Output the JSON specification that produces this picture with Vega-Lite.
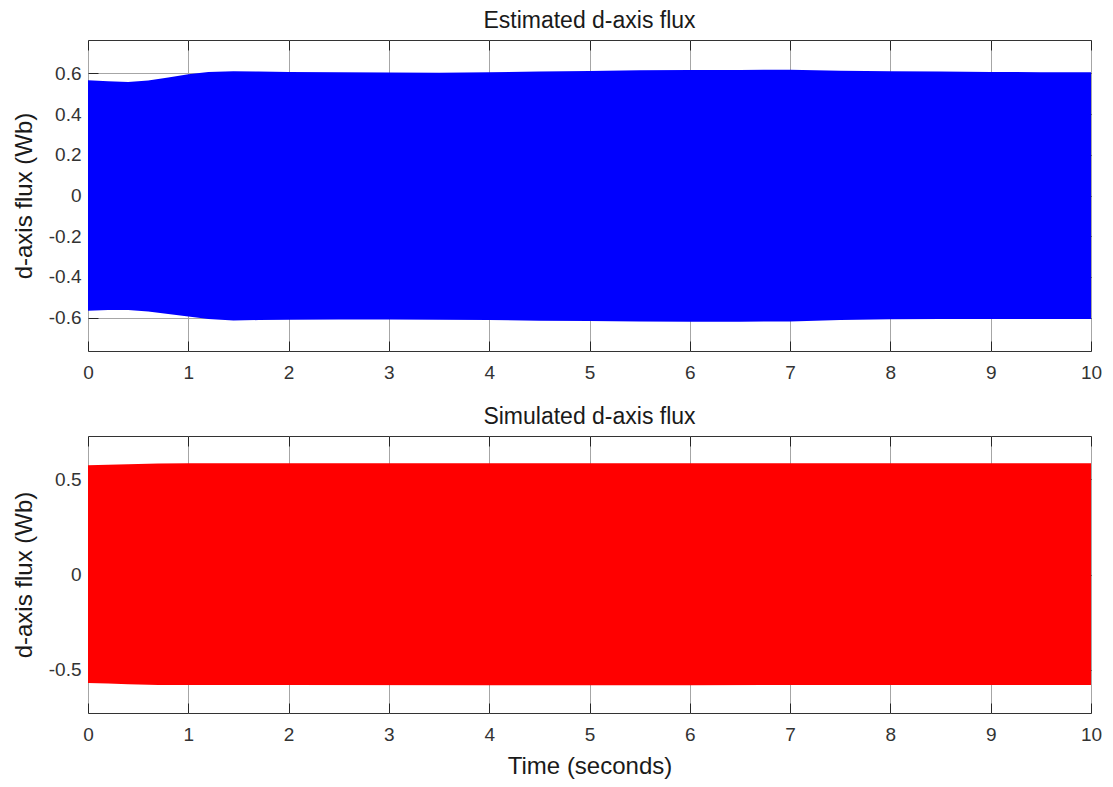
{
  "$schema": "https://vega.github.io/schema/vega-lite/v6.json",
  "background": "white",
  "padding": {"left": 11, "top": 9, "right": 5, "bottom": 5},
  "config": {
    "font": "Liberation Sans",
    "view": {"stroke": "#333333", "strokeWidth": 1},
    "axis": {
      "grid": true,
      "gridColor": "#a6a6a6",
      "gridWidth": 1,
      "domain": false,
      "tickColor": "#262626",
      "tickSize": -10,
      "tickWidth": 1,
      "labelFont": "Liberation Sans",
      "labelFontSize": 19,
      "labelColor": "#333333",
      "labelFlush": false,
      "labelOverlap": false,
      "titleFont": "Liberation Sans",
      "titleFontSize": 24,
      "titleFontWeight": "normal",
      "titleColor": "#1a1a1a"
    },
    "title": {"font": "Liberation Sans", "fontSize": 23, "fontWeight": "normal", "color": "#1a1a1a", "anchor": "middle", "frame": "group", "offset": 7},
    "concat": {"spacing": 22}
  },
  "datasets": {
    "estimated": [
      {"t": 0.0, "upper": 0.566, "lower": -0.566},
      {"t": 0.2, "upper": 0.561, "lower": -0.563},
      {"t": 0.4, "upper": 0.558, "lower": -0.562},
      {"t": 0.6, "upper": 0.565, "lower": -0.570},
      {"t": 0.8, "upper": 0.580, "lower": -0.582},
      {"t": 1.0, "upper": 0.596, "lower": -0.594},
      {"t": 1.2, "upper": 0.607, "lower": -0.607},
      {"t": 1.45, "upper": 0.611, "lower": -0.614},
      {"t": 1.7, "upper": 0.609, "lower": -0.612},
      {"t": 2.0, "upper": 0.607, "lower": -0.610},
      {"t": 2.5, "upper": 0.605, "lower": -0.609},
      {"t": 3.0, "upper": 0.604, "lower": -0.609},
      {"t": 3.5, "upper": 0.603, "lower": -0.610},
      {"t": 4.0, "upper": 0.606, "lower": -0.612},
      {"t": 4.5, "upper": 0.609, "lower": -0.615},
      {"t": 5.0, "upper": 0.612, "lower": -0.617},
      {"t": 5.5, "upper": 0.615, "lower": -0.619},
      {"t": 6.0, "upper": 0.616, "lower": -0.620},
      {"t": 6.5, "upper": 0.617, "lower": -0.620},
      {"t": 7.0, "upper": 0.618, "lower": -0.619},
      {"t": 7.5, "upper": 0.613, "lower": -0.612},
      {"t": 8.0, "upper": 0.610, "lower": -0.608},
      {"t": 8.5, "upper": 0.609, "lower": -0.607},
      {"t": 9.0, "upper": 0.607, "lower": -0.607},
      {"t": 9.5, "upper": 0.606, "lower": -0.607},
      {"t": 10.0, "upper": 0.606, "lower": -0.607}
    ],
    "simulated": [
      {"t": 0.0, "upper": 0.573, "lower": -0.569},
      {"t": 0.2, "upper": 0.576, "lower": -0.572},
      {"t": 0.4, "upper": 0.579, "lower": -0.576},
      {"t": 0.7, "upper": 0.583, "lower": -0.580},
      {"t": 1.0, "upper": 0.584, "lower": -0.580},
      {"t": 2.0, "upper": 0.584, "lower": -0.580},
      {"t": 4.0, "upper": 0.584, "lower": -0.581},
      {"t": 6.0, "upper": 0.584, "lower": -0.581},
      {"t": 8.0, "upper": 0.584, "lower": -0.580},
      {"t": 10.0, "upper": 0.584, "lower": -0.580}
    ]
  },
  "vconcat": [
    {
      "width": 1003,
      "height": 311,
      "title": "Estimated d-axis flux",
      "data": {"name": "estimated"},
      "layer": [
        {
          "mark": {"type": "area", "color": "#0000ff"},
          "encoding": {
            "x": {
              "field": "t", "type": "quantitative",
              "scale": {"domain": [0, 10], "nice": false, "zero": false},
              "axis": {"values": [0, 1, 2, 3, 4, 5, 6, 7, 8, 9, 10], "title": null, "labelPadding": 22}
            },
            "y": {
              "field": "upper", "type": "quantitative",
              "scale": {"domain": [-0.764, 0.764], "nice": false},
              "axis": {
                "values": [-0.6, -0.4, -0.2, 0, 0.2, 0.4, 0.6],
                "format": "~g",
                "labelExpr": "replace(datum.label, '\u2212', '-')",
                "labelPadding": 17,
                "title": "d-axis flux (Wb)",
                "titleX": -64, "titleY": 155.5, "titleAngle": -90,
                "titleAlign": "center", "titleBaseline": "middle"
              }
            },
            "y2": {"field": "lower"}
          }
        },
        {
          "mark": {"type": "area", "opacity": 0},
          "encoding": {
            "x": {
              "field": "t", "type": "quantitative",
              "axis": {"orient": "top", "values": [0, 1, 2, 3, 4, 5, 6, 7, 8, 9, 10], "labels": false, "grid": false, "title": null}
            },
            "y": {
              "field": "upper", "type": "quantitative",
              "axis": {"orient": "right", "values": [-0.6, -0.4, -0.2, 0, 0.2, 0.4, 0.6], "labels": false, "grid": false, "title": null}
            },
            "y2": {"field": "lower"}
          }
        }
      ],
      "resolve": {"axis": {"x": "independent", "y": "independent"}}
    },
    {
      "width": 1003,
      "height": 277,
      "title": "Simulated d-axis flux",
      "data": {"name": "simulated"},
      "layer": [
        {
          "mark": {"type": "area", "color": "#ff0000"},
          "encoding": {
            "x": {
              "field": "t", "type": "quantitative",
              "scale": {"domain": [0, 10], "nice": false, "zero": false},
              "axis": {"values": [0, 1, 2, 3, 4, 5, 6, 7, 8, 9, 10], "title": "Time (seconds)", "labelPadding": 22, "titlePadding": 10}
            },
            "y": {
              "field": "upper", "type": "quantitative",
              "scale": {"domain": [-0.727, 0.727], "nice": false},
              "axis": {
                "values": [-0.5, 0, 0.5],
                "format": "~g",
                "labelExpr": "replace(datum.label, '\u2212', '-')",
                "labelPadding": 17,
                "title": "d-axis flux (Wb)",
                "titleX": -64, "titleY": 138.5, "titleAngle": -90,
                "titleAlign": "center", "titleBaseline": "middle"
              }
            },
            "y2": {"field": "lower"}
          }
        },
        {
          "mark": {"type": "area", "opacity": 0},
          "encoding": {
            "x": {
              "field": "t", "type": "quantitative",
              "axis": {"orient": "top", "values": [0, 1, 2, 3, 4, 5, 6, 7, 8, 9, 10], "labels": false, "grid": false, "title": null}
            },
            "y": {
              "field": "upper", "type": "quantitative",
              "axis": {"orient": "right", "values": [-0.5, 0, 0.5], "labels": false, "grid": false, "title": null}
            },
            "y2": {"field": "lower"}
          }
        }
      ],
      "resolve": {"axis": {"x": "independent", "y": "independent"}}
    }
  ]
}
